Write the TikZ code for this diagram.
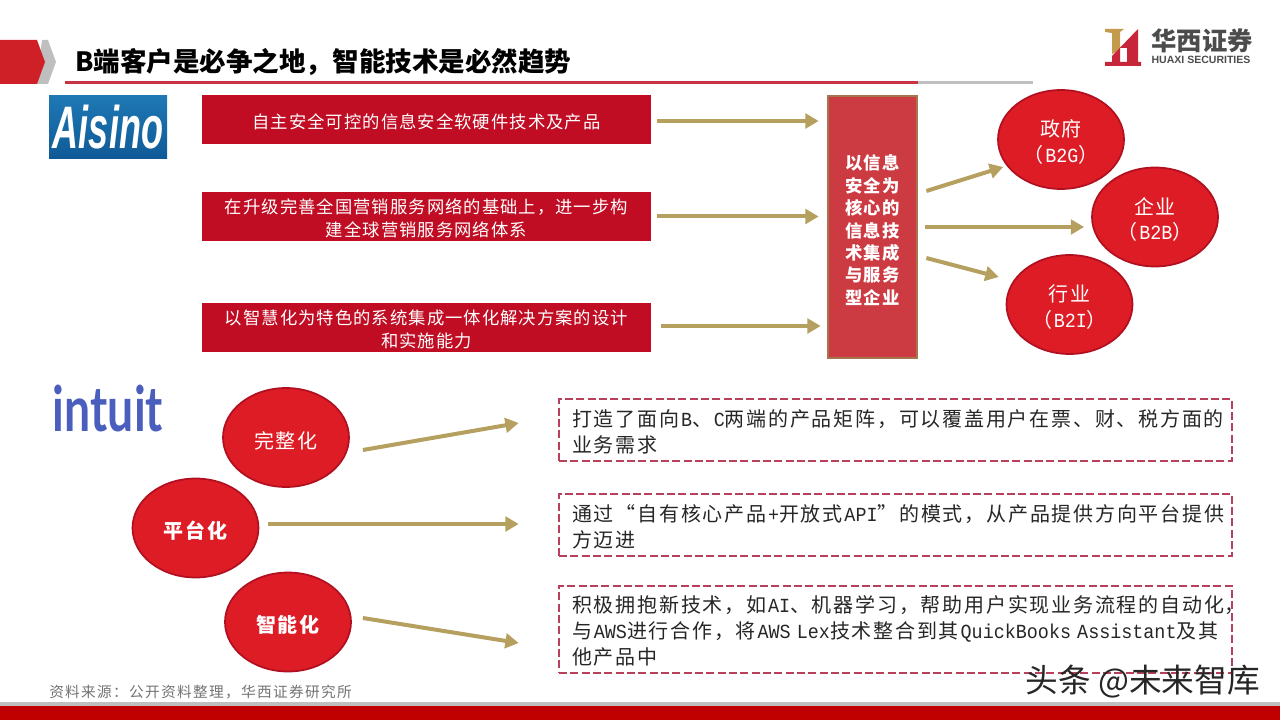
\documentclass[tikz,border=0pt]{standalone}
\usepackage{fontspec}
\usepackage{tikz}
\usetikzlibrary{arrows.meta,shapes.geometric}
\setmainfont{Noto Sans CJK SC}
\newfontfamily\barfont[LetterSpace=6]{Noto Sans CJK SC}
\newfontfamily\boxfont[LetterSpace=8.9]{Noto Sans CJK SC}
\newfontfamily\srcfont[LetterSpace=9]{Noto Sans CJK SC}
\newfontfamily\latfont{Liberation Mono}
\newfontfamily\logofont{Liberation Sans}
\newfontfamily\lato{Lato}
\newcommand{\lat}[1]{\kern1.3pt\scalebox{.92}[1]{\latfont #1}}
\newcommand{\dn}[1]{\rule{0pt}{#1}}
\definecolor{barred}{HTML}{C00D24}
\definecolor{ovalred}{HTML}{DD1C26}
\definecolor{ovaledge}{HTML}{B01020}
\definecolor{hubred}{HTML}{CC3A42}
\definecolor{hubedge}{HTML}{A4764F}
\definecolor{gold}{HTML}{B5A05F}
\definecolor{dashred}{HTML}{B8405A}
\definecolor{footred}{HTML}{C00000}
\definecolor{tabred}{HTML}{D02027}
\definecolor{intuitblue}{HTML}{4A5FBD}
\definecolor{aisinotop}{HTML}{1E78B4}
\definecolor{aisinobot}{HTML}{0F5A96}
\begin{document}
\begin{tikzpicture}[x=0.75pt, y=-0.75pt,
  bar/.style = {fill=barred, text=white, minimum width=336.75pt, minimum height=36.75pt, inner sep=0pt, align=center, font=\barfont\fontsize{13}{17.25}\selectfont},
  hub/.style = {draw=hubedge, line width=2pt, fill=hubred, text=white, minimum width=66.75pt, minimum height=196.5pt, inner sep=0pt, align=center, font=\barfont\bfseries\fontsize{13}{16.8}\selectfont},
  oval/.style = {draw=ovaledge, line width=1.3pt, fill=ovalred, text=white, ellipse, minimum width=94.5pt, minimum height=74.25pt, inner sep=0pt, align=center, font=\boxfont\fontsize{15}{19}\selectfont},
  dbox/.style = {draw=dashred, line width=2pt, dash pattern=on 6pt off 2.5pt, text=black!85, minimum width=504.75pt, inner xsep=9.75pt, inner ysep=0pt, text width=485pt, align=left, font=\boxfont\fontsize{15}{19.7}\selectfont},
  link/.style = {draw=gold, line width=3pt, -{Triangle[length=10pt, width=11pt]}}]
\useasboundingbox (0,0) rectangle (1280,720);

\fill[black!25] (42,40) -- (48,40) -- (56,62) -- (48,84) -- (37,84) -- cycle;
\fill[tabred] (0,40) -- (37,40) -- (45,62) -- (37,84) -- (0,84) -- cycle;
\fill[black!25] (918,81) rectangle (1033,84);
\fill[barred!85!white] (65,81) rectangle (918,84);
\node[anchor=west, inner sep=0pt, font=\bfseries\fontsize{19.9}{24}\selectfont] (title) at (75,62) {B端客户是必争之地，智能技术是必然趋势};

\fill[gold!80!orange] (1105,29) -- (1124,29) -- (1120,32) -- (1120,50) -- (1112,54) -- (1112,33) -- (1105,32) -- cycle;
\fill[barred!90!white] (1112,56) -- (1138,29) -- (1138,62) -- (1141,62) -- (1141,66) -- (1122,66) -- (1122,62) -- (1127,62) -- (1127,48) -- (1120,48) -- (1120,62) -- (1124,62) -- (1124,66) -- (1105,66) -- (1105,62) -- (1112,62) -- cycle;
\node[inner sep=0pt, text=black!70, font=\bfseries\fontsize{19}{22}\selectfont] (hx) at (1202,41) {华西证券};
\node[inner sep=0pt, text=black!70, font=\logofont\bfseries\fontsize{7.9}{9}\selectfont] (hxen) at (1201,60) {HUAXI SECURITIES};

\node[top color=aisinotop, bottom color=aisinobot, minimum width=88.5pt, minimum height=47.25pt, inner sep=0pt, text=white, font=\logofont\bfseries\itshape\fontsize{45}{45}\selectfont] (aisino) at (108,127.5) {\scalebox{.6}[1]{Aisino}};
\node[inner sep=0pt, text=intuitblue, font=\lato\bfseries\fontsize{47}{47}\selectfont] (intuit) at (108,409) {\scalebox{.74}[1]{intuit}};

\node[bar] (bar1) at (426.5,119.5) {\dn{14pt}自主安全可控的信息安全软硬件技术及产品};
\node[bar] (bar2) at (426.5,216.5) {\dn{14pt}在升级完善全国营销服务网络的基础上，进一步构\\建全球营销服务网络体系};
\node[bar] (bar3) at (426.5,327.5) {\dn{14pt}以智慧化为特色的系统集成一体化解决方案的设计\\和实施能力};
\node[hub] (core) at (872.5,227) {\dn{16pt}以信息\\安全为\\核心的\\信息技\\术集成\\与服务\\型企业};
\node[oval] (gov) at (1061,139.5) {\dn{16.5pt}政府\\（\lat{B2G}）};
\node[oval] (ent) at (1155,217) {\dn{16.5pt}企业\\（\lat{B2B}）};
\node[oval] (ind) at (1069.5,304.5) {\dn{16.5pt}行业\\（\lat{B2I}）};

\draw[link] ([shift={(6,1.5)}]bar1.east) -- ([shift={(-8,-106)}]core.west);
\draw[link] ([shift={(6,0)}]bar2.east) -- ([shift={(-8,-10.5)}]core.west);
\draw[link] ([shift={(10,-1.5)}]bar3.east) -- ([shift={(-6,99)}]core.west);
\draw[link] ([shift={(8,-36)}]core.east) -- ([shift={(6,27.5)}]gov.west);
\draw[link] ([shift={(7,0)}]core.east) -- ([shift={(-7,10)}]ent.west);
\draw[link] ([shift={(8,31)}]core.east) -- ([shift={(-7,-27.5)}]ind.west);

\node[oval] (wz) at (286,437.5) {\dn{17pt}完整化};
\node[oval, font=\boxfont\bfseries\fontsize{15}{19}\selectfont] (pt) at (195.5,528) {\dn{17pt}平台化};
\node[oval, font=\boxfont\bfseries\fontsize{15}{19}\selectfont] (zn) at (288,622) {\dn{17pt}智能化};

\node[dbox, minimum height=46.5pt] (box1) at (895.5,430) {\dn{15.5pt}打造了面向\lat{B}、\lat{C}两端的产品矩阵，可以覆盖用户在票、财、税方面的\\业务需求};
\node[dbox, minimum height=46.5pt] (box2) at (895.5,525) {\dn{15pt}通过“自有核心产品\lat{+}开放式\lat{API}”的模式，从产品提供方向平台提供\\方迈进};
\node[dbox, minimum height=65.25pt] (box3) at (895.5,629.5) {\dn{15pt}积极拥抱新技术，如\lat{AI}、机器学习，帮助用户实现业务流程的自动化\rlap{，}\\与\lat{AWS}进行合作，将\lat{AWS Lex}技术整合到其\lat{QuickBooks Assistant}及其\\他产品中};

\draw[link] ([shift={(13,12.5)}]wz.east) -- ([shift={(-39,-7)}]box1.west);
\draw[link] ([shift={(9,-4)}]pt.east) -- ([shift={(-39,-1)}]box2.west);
\draw[link] ([shift={(11,-4)}]zn.east) -- ([shift={(-39,13.5)}]box3.west);

\node[anchor=west, inner sep=0pt, text=black!55, font=\srcfont\fontsize{11}{13}\selectfont] (src) at (49,692) {资料来源：公开资料整理，华西证券研究所};
\fill[black!25] (0,702) rectangle (1280,706);
\fill[footred] (0,706) rectangle (1280,720);
\node[anchor=east, inner sep=0pt, text=black!85, font=\fontsize{24.5}{28}\selectfont] (mark) at (1260,682) {头条 @未来智库};
\end{tikzpicture}
\end{document}
